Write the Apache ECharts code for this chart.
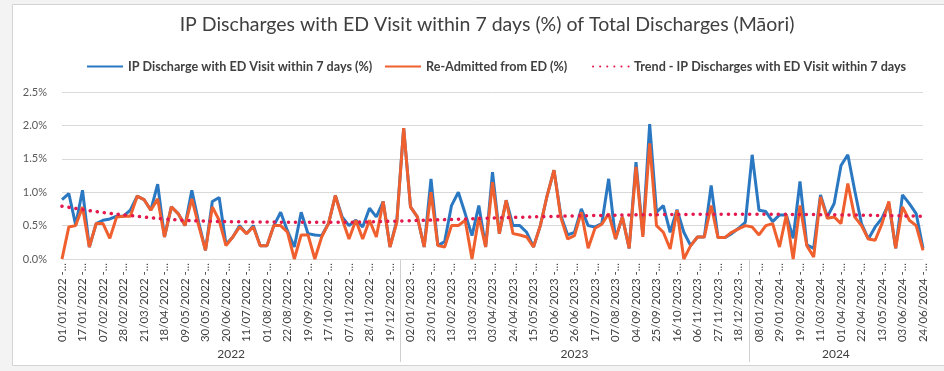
<!DOCTYPE html>
<html>
<head>
<meta charset="utf-8">
<script src="https://cdn.jsdelivr.net/npm/echarts@6/dist/echarts.min.js"></script>
<style>
  html, body { margin: 0; padding: 0; background: #f3f3f3; }
  #chart { width: 944px; height: 371px; }
</style>
</head>
<body>
<div id="chart"></div>
<script>
// Reporting weeks (week start dates)
const weeks = [
  '01/01/2022','03/01/2022','10/01/2022','17/01/2022','24/01/2022','31/01/2022','07/02/2022','14/02/2022',
  '21/02/2022','28/02/2022','07/03/2022','14/03/2022','21/03/2022','28/03/2022','04/04/2022','18/04/2022',
  '25/04/2022','02/05/2022','09/05/2022','16/05/2022','23/05/2022','30/05/2022','06/06/2022','13/06/2022',
  '20/06/2022','27/06/2022','04/07/2022','11/07/2022','18/07/2022','25/07/2022','01/08/2022','08/08/2022',
  '15/08/2022','22/08/2022','29/08/2022','05/09/2022','19/09/2022','26/09/2022','03/10/2022','17/10/2022',
  '24/10/2022','31/10/2022','07/11/2022','14/11/2022','21/11/2022','28/11/2022','05/12/2022','12/12/2022',
  '19/12/2022','26/12/2022',
  '01/01/2023','02/01/2023','09/01/2023','16/01/2023','23/01/2023','30/01/2023','06/02/2023','13/02/2023',
  '20/02/2023','27/02/2023','13/03/2023','20/03/2023','27/03/2023','03/04/2023','10/04/2023','17/04/2023',
  '24/04/2023','01/05/2023','08/05/2023','15/05/2023','22/05/2023','29/05/2023','05/06/2023','12/06/2023',
  '19/06/2023','26/06/2023','03/07/2023','10/07/2023','17/07/2023','24/07/2023','31/07/2023','07/08/2023',
  '14/08/2023','21/08/2023','04/09/2023','11/09/2023','18/09/2023','25/09/2023','02/10/2023','09/10/2023',
  '16/10/2023','23/10/2023','30/10/2023','06/11/2023','13/11/2023','20/11/2023','27/11/2023','04/12/2023',
  '11/12/2023','18/12/2023','25/12/2023',
  '01/01/2024','08/01/2024','15/01/2024','22/01/2024','29/01/2024','05/02/2024','12/02/2024','19/02/2024',
  '26/02/2024','04/03/2024','11/03/2024','18/03/2024','25/03/2024','01/04/2024','08/04/2024','15/04/2024',
  '22/04/2024','29/04/2024','06/05/2024','13/05/2024','20/05/2024','27/05/2024','03/06/2024','10/06/2024',
  '17/06/2024','24/06/2024'
];

// IP discharges with an ED visit within 7 days, % of total discharges
const ipEdVisitPct = [
  0.89,0.98,0.51,1.03,0.18,0.53,0.58,0.60,0.64,0.64,0.73,0.94,0.89,0.73,1.12,0.33,
  0.78,0.68,0.50,1.03,0.55,0.13,0.86,0.92,0.22,0.33,0.50,0.38,0.50,0.20,0.20,0.50,
  0.70,0.42,0.18,0.70,0.38,0.36,0.35,0.53,0.95,0.63,0.50,0.58,0.48,0.76,0.63,0.86,
  0.18,0.58,
  1.96,0.78,0.63,0.18,1.20,0.20,0.26,0.80,1.00,0.68,0.35,0.80,0.18,1.30,0.38,0.88,
  0.50,0.50,0.40,0.18,0.50,0.95,1.33,0.65,0.36,0.40,0.75,0.50,0.48,0.53,1.20,0.30,
  0.63,0.16,1.45,0.36,2.02,0.70,0.80,0.40,0.74,0.40,0.20,0.33,0.33,1.10,0.32,0.32,
  0.38,0.46,0.55,
  1.56,0.73,0.71,0.56,0.66,0.66,0.31,1.16,0.21,0.16,0.96,0.63,0.83,1.40,1.56,1.03,
  0.53,0.30,0.48,0.61,0.83,0.16,0.96,0.83,0.68,0.16
];

// Re-admitted from ED, % of total discharges
const readmittedPct = [
  0.00,0.48,0.50,0.78,0.18,0.53,0.53,0.31,0.63,0.64,0.64,0.94,0.89,0.73,0.90,0.33,
  0.78,0.68,0.50,0.90,0.50,0.13,0.78,0.58,0.20,0.33,0.48,0.38,0.48,0.20,0.20,0.50,
  0.50,0.40,0.00,0.36,0.36,0.00,0.33,0.53,0.95,0.60,0.30,0.58,0.30,0.58,0.33,0.86,
  0.18,0.55,
  1.96,0.78,0.63,0.18,1.00,0.20,0.18,0.50,0.50,0.58,0.00,0.63,0.18,1.15,0.38,0.88,
  0.38,0.36,0.33,0.18,0.50,0.95,1.33,0.62,0.30,0.35,0.70,0.16,0.46,0.52,0.68,0.30,
  0.63,0.16,1.38,0.33,1.73,0.50,0.40,0.15,0.73,0.00,0.20,0.33,0.33,0.80,0.32,0.32,
  0.40,0.45,0.50,
  0.48,0.36,0.50,0.53,0.18,0.66,0.00,0.80,0.20,0.03,0.93,0.61,0.63,0.53,1.13,0.63,
  0.50,0.30,0.28,0.53,0.86,0.16,0.78,0.58,0.50,0.13
];

// Trend of IP discharges with ED visit: [week index, %]
const trendPoints = [
  [0,0.79],[5,0.71],[10,0.65],[15,0.60],[20,0.57],[28,0.555],[40,0.55],[50,0.57],
  [62,0.61],[75,0.645],[88,0.665],[101,0.67],[114,0.66],[126,0.64]
];

const seriesNames = [
  'IP Discharge with ED Visit within 7 days (%)',
  'Re-Admitted from ED (%)',
  'Trend - IP Discharges with ED Visit within 7 days'
];
const years = ['2022', '2023', '2024'];

const FONT = 'Lato, "Open Sans", "DejaVu Sans", sans-serif';
const chart = echarts.init(document.getElementById('chart'));

chart.setOption({
  animation: false,
  backgroundColor: '#f3f3f3',
  title: {
    text: 'IP Discharges with ED Visit within 7 days (%) of Total Discharges (M\u0101ori)',
    left: 482, top: 10, textAlign: 'center',
    textStyle: { fontFamily: FONT, fontSize: 19.5, fontWeight: 'normal', color: '#404040' }
  },
  legend: [81, 379, 587].map((x, k) => ({
    left: x, top: 55, itemWidth: 36, itemHeight: 14, itemGap: 0,
    data: [seriesNames[k]],
    itemStyle: { opacity: 0 },
    textStyle: { fontFamily: FONT, fontSize: 12.6, fontWeight: 'bold', color: '#404040' }
  })),
  grid: { left: 62, right: 21, top: 92, bottom: 112 },
  xAxis: {
    type: 'category',
    data: weeks,
    boundaryGap: false,
    axisLine: { lineStyle: { color: '#d9d9d9' } },
    axisTick: { show: false },
    axisLabel: {
      interval: 2, rotate: 90, margin: 4,
      fontFamily: FONT, fontSize: 11.5, color: '#404040',
      formatter: d => d + ' -...'
    }
  },
  yAxis: {
    type: 'value', min: 0, max: 2.5, interval: 0.5,
    axisLine: { show: false }, axisTick: { show: false },
    splitLine: { lineStyle: { color: '#d9d9d9' } },
    axisLabel: {
      margin: 15, fontFamily: FONT, fontSize: 11, color: '#595959',
      formatter: v => v.toFixed(1) + '%'
    }
  },
  series: [
    {
      name: seriesNames[0], type: 'line', data: ipEdVisitPct,
      symbol: 'none', lineStyle: { color: '#2b78c2', width: 3 }, itemStyle: { color: '#2b78c2' }
    },
    {
      name: seriesNames[1], type: 'line', data: readmittedPct,
      symbol: 'none', lineStyle: { color: '#f0602e', width: 3 }, itemStyle: { color: '#f0602e' }
    },
    {
      name: seriesNames[2], type: 'line', data: trendPoints,
      symbol: 'none', smooth: 0.4,
      lineStyle: { color: '#e3184c', width: 3.5, type: [0.1, 7], cap: 'round' },
      itemStyle: { color: '#e3184c' }
    }
  ]
});

// Year grouping row beneath the week labels
const px = i => chart.convertToPixel({ xAxisIndex: 0 }, i);
const step = px(1) - px(0);
const plotLeft = px(0), plotRight = px(weeks.length - 1);
const axisY = chart.convertToPixel({ yAxisIndex: 0 }, 0);
const graphics = [
  { type: 'rect', z: -10, silent: true,
    shape: { x: 12.5, y: 4.5, width: 960, height: 361 },
    style: { fill: '#ffffff', stroke: '#d4d4d4', lineWidth: 1 } }
];
years.forEach((yr, k) => {
  const first = weeks.findIndex(w => w.endsWith(yr));
  let last = -1;
  weeks.forEach((w, i) => { if (w.endsWith(yr)) last = i; });
  const x0 = Math.max(plotLeft, px(first) - step / 2);
  const x1 = Math.min(plotRight, px(last) + step / 2);
  graphics.push({
    type: 'text', silent: true,
    style: { text: yr, x: (x0 + x1) / 2, y: axisY + 95, align: 'center', verticalAlign: 'middle',
             fill: '#404040', font: '12px ' + FONT }
  });
  if (k > 0) {
    const xd = Math.round(px(first) - step / 2) + 0.5;
    graphics.push({
      type: 'line', silent: true,
      shape: { x1: xd, y1: axisY, x2: xd, y2: axisY + 103 },
      style: { stroke: '#d0d0d0', lineWidth: 1 }
    });
  }
});
chart.setOption({ graphic: graphics });
</script>
</body>
</html>
